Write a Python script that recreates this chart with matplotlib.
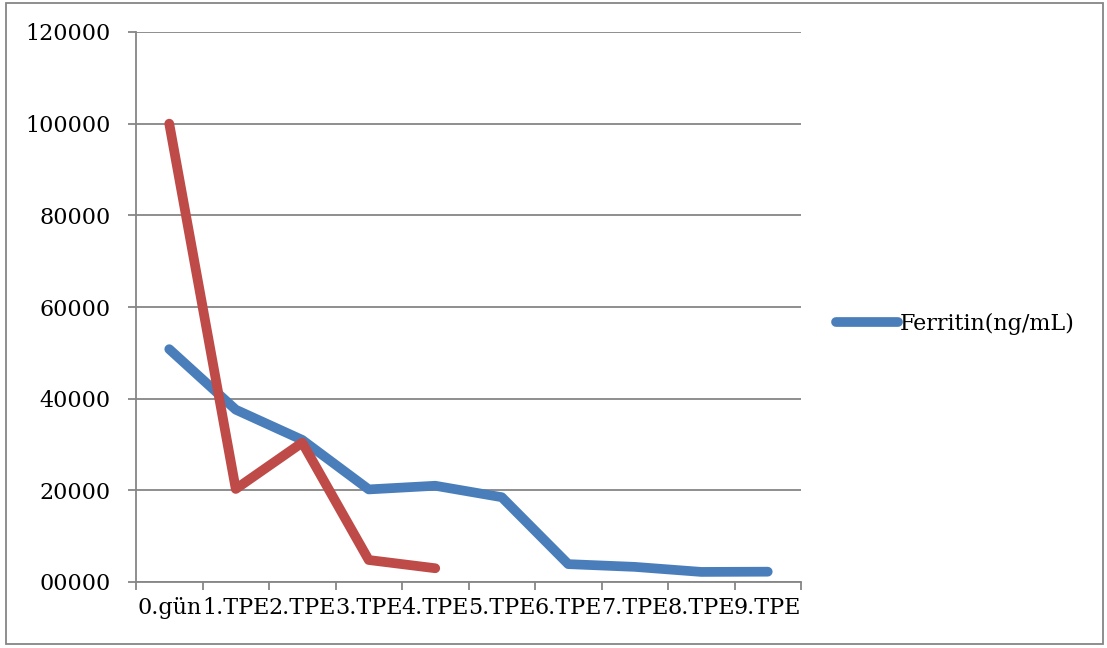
import matplotlib
matplotlib.use("Agg")
import matplotlib.pyplot as plt
from matplotlib.patches import Rectangle

# Categories and series
days = ["0.gün", "1.TPE", "2.TPE", "3.TPE", "4.TPE", "5.TPE", "6.TPE", "7.TPE", "8.TPE", "9.TPE"]
ferritin = [50800, 37600, 31000, 20200, 21000, 18500, 3900, 3300, 2200, 2250]
second_series = [100000, 20300, 30400, 4800, 3000]
y_ticks = [0, 20000, 40000, 60000, 80000, 100000, 120000]
y_labels = ["00000", "20000", "40000", "60000", "80000", "100000", "120000"]

plt.rcParams['font.family'] = ['DejaVu Serif']

fig = plt.figure(figsize=(11.07, 6.48), dpi=100)
ax = fig.add_axes([136 / 1107, 1 - 582 / 648, 665 / 1107, 550 / 648])

grid_color = "#868686"
blue = "#4A7EBB"
red = "#BE4B48"

x = list(range(len(days)))
ax.plot(x, ferritin, color=blue, lw=7, solid_capstyle='round', solid_joinstyle='round',
        label="Ferritin(ng/mL)", zorder=3)
ax.plot(x[:len(second_series)], second_series, color=red, lw=7, solid_capstyle='round',
        solid_joinstyle='round', zorder=4)

ax.set_xlim(-0.5, len(days) - 0.5)
ax.set_ylim(0, 120000)

ax.set_yticks(y_ticks)
ax.set_yticklabels(y_labels, fontsize=16)
ax.yaxis.grid(True, color=grid_color, lw=1.3)
ax.set_axisbelow(True)

# category labels centred, tick marks between categories
ax.set_xticks(x)
ax.set_xticklabels(days, fontsize=16)
ax.set_xticks([i - 0.5 for i in range(len(days) + 1)], minor=True)
ax.tick_params(axis='x', which='major', length=0, pad=11)
ax.tick_params(axis='x', which='minor', length=6, width=1.3, color=grid_color)
ax.tick_params(axis='y', length=6, width=1.3, color=grid_color, pad=12)

for side in ['top', 'right']:
    ax.spines[side].set_visible(False)
for side in ['left', 'bottom']:
    ax.spines[side].set_color(grid_color)
    ax.spines[side].set_linewidth(1.3)

fig.legend(loc='center left', bbox_to_anchor=(836 / 1107, 1 - 324 / 648), frameon=False,
           fontsize=16, handlelength=2.8, handletextpad=0.05, borderpad=0, borderaxespad=0)

# outer chart border
fig.patches.append(Rectangle((6 / 1107, 4 / 648), 1097 / 1107, 641 / 648, transform=fig.transFigure,
                             fill=False, edgecolor=grid_color, lw=1.3))

fig.savefig("out.png", dpi=100)
